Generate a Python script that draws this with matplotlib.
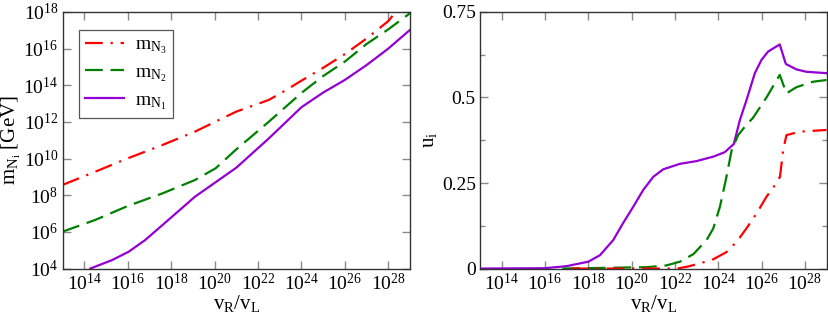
import numpy as np
import matplotlib
matplotlib.use("Agg")
import matplotlib.pyplot as plt
from matplotlib.ticker import FixedLocator, NullLocator

plt.rcParams["font.family"] = ["Liberation Serif", "DejaVu Serif"]
plt.rcParams["mathtext.fontset"] = "custom"
plt.rcParams["mathtext.rm"] = "Liberation Serif"
plt.rcParams["mathtext.it"] = "Liberation Serif"
plt.rcParams["mathtext.default"] = "rm"

# ---- left panel: log10 of v_R/v_L and log10 of masses [GeV]
mass_n3_x = [13, 14.5, 16, 17.6, 19.1, 21, 22.5, 23.3, 24, 25, 26, 27, 28, 28.35]
mass_n3_y = [8.56, 9.28, 10.01, 10.74, 11.47, 12.56, 13.2, 13.74, 14.25, 14.95, 15.7, 16.55, 17.5, 18.02]
mass_n2_x = [13, 14.5, 16, 17.6, 19.1, 20.05, 21, 22.5, 24, 25, 26, 27, 28, 29]
mass_n2_y = [6.01, 6.65, 7.41, 8.1, 8.83, 9.47, 10.5, 12.01, 13.58, 14.5, 15.29, 16.25, 17.05, 17.93]
mass_n1_x = [14.28, 15.28, 16.05, 16.8, 17.6, 19.1, 21, 22.5, 24, 25, 26, 27, 28, 29]
mass_n1_y = [4.0, 4.46, 4.92, 5.55, 6.37, 7.92, 9.5, 11.1, 12.8, 13.6, 14.29, 15.1, 16.0, 17.02]

# ---- right panel: u_i vs log10(v_R/v_L)
u1_x = [13, 16, 17, 18, 18.54, 19.15, 19.6, 20.08, 20.54, 21, 21.46, 22.23, 23, 23.77,
        24.3, 24.72, 25.0, 25.31, 25.69, 26.0, 26.3, 26.84, 27.12, 27.61, 28.07, 29]
u1_y = [0, 0.001, 0.007, 0.02, 0.039, 0.083, 0.132, 0.181, 0.23, 0.268, 0.29, 0.306, 0.314, 0.327,
        0.34, 0.364, 0.434, 0.493, 0.571, 0.61, 0.634, 0.655, 0.598, 0.582, 0.575, 0.571]
u2_x = [16.8, 20.7, 21.6, 22.23, 22.85, 23.46, 23.77, 24.08, 24.38, 24.62, 24.92, 25.3, 25.6,
        26.23, 26.84, 27.15, 27.61, 28.38, 29]
u2_y = [0, 0.004, 0.009, 0.02, 0.042, 0.083, 0.117, 0.181, 0.268, 0.346, 0.39, 0.42, 0.44,
        0.50, 0.566, 0.512, 0.53, 0.546, 0.551]
u3_x = [17.2, 22.1, 22.54, 23.15, 23.77, 24.38, 24.85, 25.3, 25.77, 26.23, 26.62, 26.85, 27.0,
        27.15, 27.77, 29]
u3_y = [0, 0, 0.005, 0.015, 0.027, 0.048, 0.078, 0.117, 0.161, 0.21, 0.244, 0.268, 0.346,
        0.39, 0.40, 0.405]

x_tick_exps = [14, 16, 18, 20, 22, 24, 26, 28]
x_tick_labels = [rf"$10^{{{e}}}$" for e in x_tick_exps]
m_tick_exps = [4, 6, 8, 10, 12, 14, 16, 18]
m_tick_labels = [rf"$10^{{{e}}}$" for e in m_tick_exps]
u_ticks = [0, 0.25, 0.5, 0.75]
u_tick_labels = ["0", "0.25", "0.5", "0.75"]
u_minor = [0.125, 0.375, 0.625]

red, green, purple = "#ff0000", "#008000", "#9400d3"
dash_dot = (0, (8, 3.5, 1, 3.5))
dashed = (0, (8, 3.5))
lw = 1.6


def p10(v):
    return 10.0 ** np.asarray(v, dtype=float)


def style_axes(ax):
    ax.tick_params(axis="both", which="both", direction="in", top=True, right=True,
                   color="#8a8a8a", labelsize=14, pad=3)
    ax.tick_params(axis="both", which="major", length=6, width=1)
    ax.tick_params(axis="both", which="minor", length=3.5, width=1)
    for sp in ax.spines.values():
        sp.set_color("#333333")
        sp.set_linewidth(1.0)


fig = plt.figure(figsize=(8.29, 3.22), dpi=100)
ax1 = fig.add_axes([0.0754, 0.166, 0.4192, 0.797])
ax2 = fig.add_axes([0.579, 0.166, 0.418, 0.797])

ax1.plot(p10(mass_n3_x), p10(mass_n3_y), color=red, lw=lw, linestyle=dash_dot, label=r"$m_{N_3}$")
ax1.plot(p10(mass_n2_x), p10(mass_n2_y), color=green, lw=lw, linestyle=dashed, label=r"$m_{N_2}$")
ax1.plot(p10(mass_n1_x), p10(mass_n1_y), color=purple, lw=lw, label=r"$m_{N_1}$")
ax1.set_xscale("log")
ax1.set_yscale("log")
ax1.set_xlim(1e13, 1e29)
ax1.set_ylim(1e4, 1e18)
ax1.xaxis.set_major_locator(FixedLocator(p10(x_tick_exps)))
ax1.set_xticklabels(x_tick_labels)
ax1.yaxis.set_major_locator(FixedLocator(p10(m_tick_exps)))
ax1.set_yticklabels(m_tick_labels)
ax1.xaxis.set_minor_locator(NullLocator())
ax1.yaxis.set_minor_locator(NullLocator())
style_axes(ax1)
ax1.set_xlabel(r"$v_R/v_L$", fontsize=15, labelpad=-1)
ax1.set_ylabel(r"$m_{N_i}$ [GeV]", fontsize=15, labelpad=0)
leg = ax1.legend(loc="upper left", bbox_to_anchor=(0.047, 0.93), borderaxespad=0,
                 fontsize=14, handlelength=2.0, handletextpad=0.6, labelspacing=0.4,
                 fancybox=False, framealpha=1, borderpad=0.3)
leg.get_frame().set_edgecolor("#555555")
leg.get_frame().set_linewidth(0.9)

ax2.plot(p10(u1_x), u1_y, color=purple, lw=lw)
ax2.plot(p10(u2_x), u2_y, color=green, lw=lw, linestyle=dashed)
ax2.plot(p10(u3_x), u3_y, color=red, lw=lw, linestyle=dash_dot)
ax2.set_xscale("log")
ax2.set_xlim(1e13, 1e29)
ax2.set_ylim(0, 0.75)
ax2.xaxis.set_major_locator(FixedLocator(p10(x_tick_exps)))
ax2.set_xticklabels(x_tick_labels)
ax2.xaxis.set_minor_locator(NullLocator())
ax2.yaxis.set_major_locator(FixedLocator(u_ticks))
ax2.set_yticklabels(u_tick_labels)
ax2.yaxis.set_minor_locator(FixedLocator(u_minor))
style_axes(ax2)
ax2.set_xlabel(r"$v_R/v_L$", fontsize=15, labelpad=-1)
ax2.set_ylabel(r"$u_i$", fontsize=15, labelpad=2)

fig.savefig("out.png", dpi=100)
